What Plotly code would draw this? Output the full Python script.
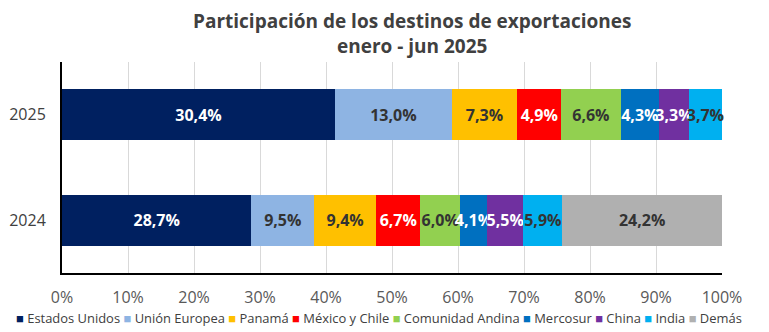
import plotly.graph_objects as go

years = ["2024", "2025"]
series = ["Estados Unidos", "Unión Europea", "Panamá", "México y Chile",
          "Comunidad Andina", "Mercosur", "China", "India", "Demás"]
values_2024 = [28.7, 9.5, 9.4, 6.7, 6.0, 4.1, 5.5, 5.9, 24.2]
values_2025 = [30.4, 13.0, 7.3, 4.9, 6.6, 4.3, 3.3, 3.7, None]
colors = ["#002060", "#8EB4E3", "#FFC000", "#FF0000", "#92D050",
          "#0070C0", "#7030A0", "#00B0F0", "#B0B0B0"]
label_colors = ["white", "#333333", "#333333", "white", "#333333",
                "white", "white", "#333333", "#333333"]
x_ticks = list(range(0, 101, 10))
title_text = "Participación de los destinos de exportaciones<br>enero - jun 2025"


def fmt(v):
    return "" if v is None else f"{v:.1f}".replace(".", ",") + "%"


fig = go.Figure()
for i, name in enumerate(series):
    vals = [values_2024[i], values_2025[i]]
    fig.add_trace(go.Bar(
        y=years, x=vals, name=name, orientation="h",
        marker=dict(color=colors[i], line=dict(width=0)),
        text=[fmt(v) for v in vals],
        textposition="inside", insidetextanchor="middle",
        textangle=0, constraintext="none", cliponaxis=False,
        textfont=dict(family="Open Sans", size=16, color=label_colors[i], weight="bold"),
        hoverinfo="skip", showlegend=False,
    ))

legend_parts = []
for name, c in zip(series, colors):
    legend_parts.append(f"<span style='color:{c}'>■</span> {name}")
legend_text = " ".join(legend_parts)

fig.add_annotation(
    text=legend_text, xref="paper", yref="paper", x=0.480, y=-0.213,
    xanchor="center", yanchor="middle", showarrow=False,
    font=dict(family="Open Sans", size=12.95, color="#404040"),
)

fig.add_annotation(
    text=title_text, xref="paper", yref="paper", x=0.531, y=1.137,
    xanchor="center", yanchor="middle", showarrow=False,
    font=dict(family="Open Sans", size=19, color="#404040", weight="bold"),
)

fig.update_layout(
    width=769, height=332,
    barmode="stack", barnorm="percent", bargap=0.517,
    separators=",.",
    plot_bgcolor="white", paper_bgcolor="white",
    margin=dict(l=62, r=47, t=62, b=59, autoexpand=False),
    xaxis=dict(
        range=[0, 100], tickvals=x_ticks, ticktext=[f"{t}%" for t in x_ticks],
        showgrid=True, gridcolor="#D9D9D9", gridwidth=1,
        showline=True, linecolor="black", linewidth=2,
        zeroline=False, ticks="", ticklen=0, automargin=False,
        tickfont=dict(family="Open Sans", size=16, color="#595959"),
        ticklabelstandoff=9,
    ),
    yaxis=dict(
        showline=True, linecolor="black", linewidth=2,
        showgrid=False, zeroline=False, ticks="", automargin=False,
        tickfont=dict(family="Open Sans", size=16, color="#404040"),
        ticklabelstandoff=11,
    ),
)

fig.write_html("out.html")
